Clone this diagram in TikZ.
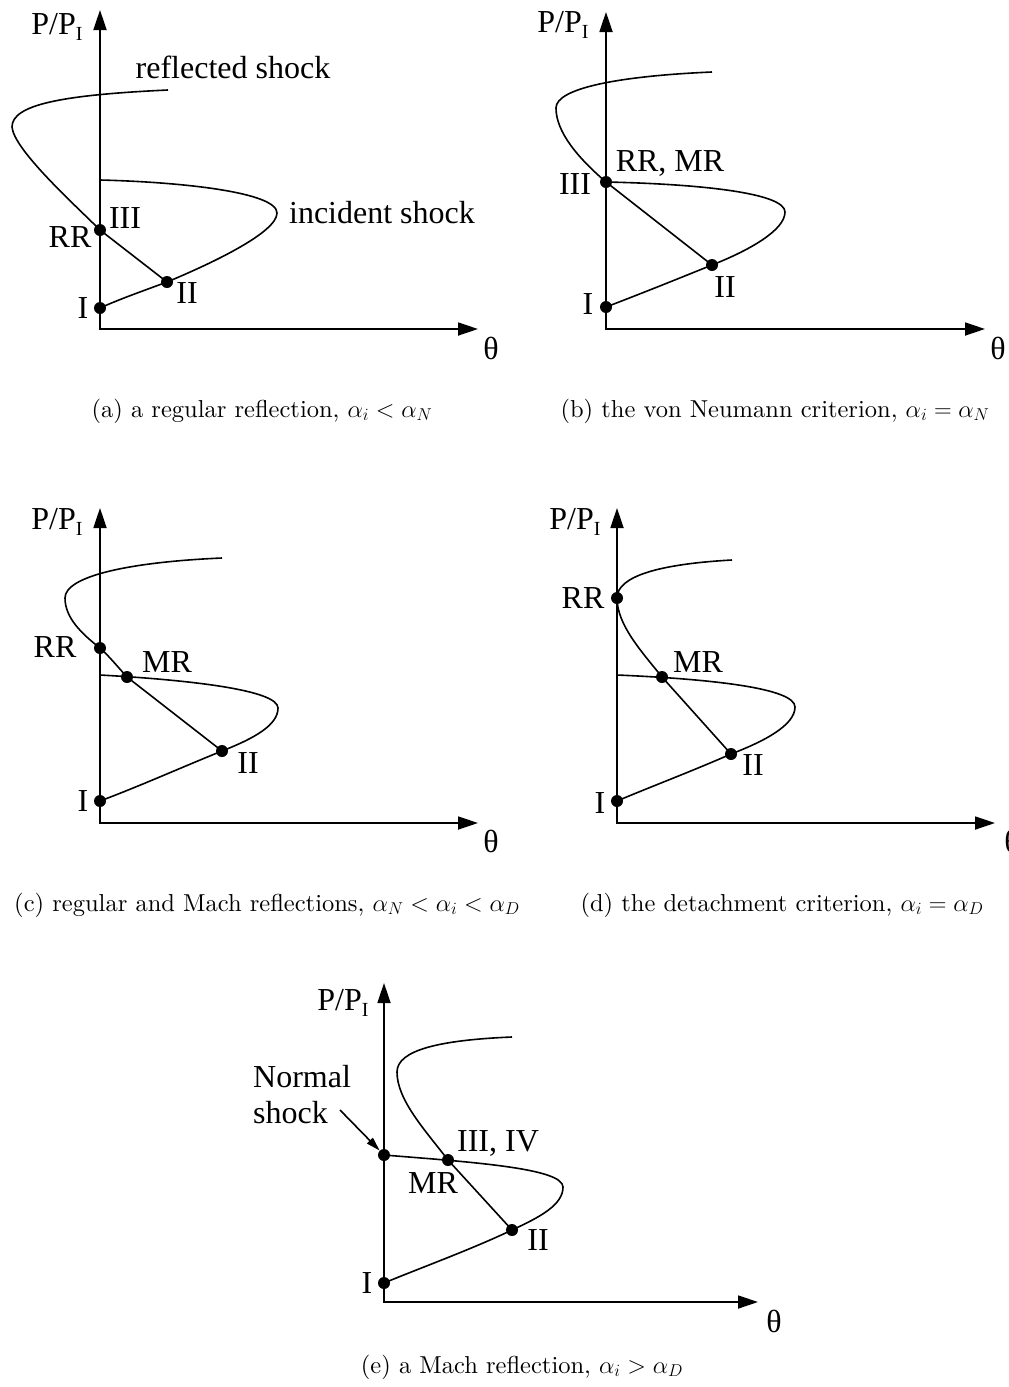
\RequirePackage{fix-cm}
\documentclass[tikz,border=0pt]{standalone}
\usepackage{fontspec}
\newfontfamily\tfont{Liberation Serif}
\newfontfamily\capfont{lmroman10-regular}[Extension=.otf]
\usetikzlibrary{arrows.meta}
\newcommand{\PPI}{P/P\raisebox{-6pt}{\fontsize{20}{20}\selectfont I}}
\begin{document}
\begin{tikzpicture}[x=1pt,y=-1pt,
  axis/.style={line width=1.8pt,{Triangle[length=20pt,width=13pt]}-{Triangle[length=20pt,width=13pt]}},
  polar/.style={line width=1.6pt},
  dot/.style={circle,fill=black,inner sep=0pt,minimum size=12pt},
  lab/.style={font=\tfont\fontsize{32}{36}\selectfont,inner sep=0pt},
  captext/.style={font=\capfont\fontsize{24.5}{29}\selectfont,inner sep=0pt},
  pointer/.style={line width=1.6pt,-{Triangle[length=14pt,width=8pt]}}]
\useasboundingbox (0,0) rectangle (1009,1387);

% ---------------- (a)
\coordinate (aO) at (100,329); \coordinate (aY) at (100,10); \coordinate (aX) at (478,329);
\draw[axis] (aY) -- (aO) -- (aX);
\node[dot] (aI) at (100,308) {};
\node[dot] (aII) at (167,282) {};
\node[dot] (aIII) at (100,230) {};
\coordinate (aRs) at (168,90); \coordinate (aIs) at (100,180);
\draw[polar] (aRs) .. controls (60,95) and (12,105) .. (12,127)
  .. controls (14,150) and (75,205) .. (aIII.center) -- (aII.center);
\draw[polar] (aIs) .. controls (180,182) and (277,192) .. (277,213)
  .. controls (277,232) and (215,262) .. (aII.center)
  .. controls (140,292) and (120,299) .. (aI.center);
\node[lab] (aP) at (57,27) {\PPI};
\node[lab] (aT) at (491,348) {θ};
\node[lab] (aref) at (233,67) {reflected shock};
\node[lab] (ainc) at (382,213) {incident shock};
\node[lab] (aRR) at (70,237) {RR};
\node[lab] (aL3) at (125,218) {III};
\node[lab] (aL2) at (187,293) {II};
\node[lab] (aL1) at (83,308) {I};
\node[captext] (acap) at (262,411) {(a) a regular reflection, $\alpha_i < \alpha_N$};

% ---------------- (b)
\coordinate (bO) at (606,329); \coordinate (bY) at (606,12); \coordinate (bX) at (985,329);
\draw[axis] (bY) -- (bO) -- (bX);
\node[dot] (bI) at (606,307) {};
\node[dot] (bII) at (712,265) {};
\node[dot] (bIII) at (606,182) {};
\coordinate (bRs) at (712,72);
\draw[polar] (bRs) .. controls (620,76) and (556,88) .. (556,108)
  .. controls (556,132) and (578,158) .. (bIII.center) -- (bII.center);
\draw[polar] (bIII.center) .. controls (700,184) and (785,193) .. (785,212)
  .. controls (785,230) and (750,250) .. (bII.center)
  .. controls (670,282) and (640,294) .. (bI.center);
\node[lab] (bP) at (563,25) {\PPI};
\node[lab] (bT) at (998,348) {θ};
\node[lab] (bRM) at (670,163) {RR, MR};
\node[lab] (bL3) at (575,184) {III};
\node[lab] (bL2) at (725,287) {II};
\node[lab] (bL1) at (588,304) {I};
\node[captext] (bcap) at (775,411) {(b) the von Neumann criterion, $\alpha_i = \alpha_N$};

% ---------------- (c)
\coordinate (cO) at (100,823); \coordinate (cY) at (100,508); \coordinate (cX) at (478,823);
\draw[axis] (cY) -- (cO) -- (cX);
\node[dot] (cI) at (100,801) {};
\node[dot] (cII) at (222,751) {};
\node[dot] (cRR) at (100,648) {};
\node[dot] (cMR) at (127,677) {};
\coordinate (cRs) at (222,558); \coordinate (cIs) at (100,675);
\draw[polar] (cRs) .. controls (130,562) and (65,576) .. (65,598)
  .. controls (65,618) and (82,634) .. (cRR.center)
  .. controls (109,656) and (117,666) .. (cMR.center) -- (cII.center);
\draw[polar] (cIs) .. controls (190,680) and (278,690) .. (278,708)
  .. controls (278,725) and (255,738) .. (cII.center)
  .. controls (180,768) and (140,786) .. (cI.center);
\node[lab] (cP) at (57,522) {\PPI};
\node[lab] (cT) at (491,841) {θ};
\node[lab] (cLRR) at (55,647) {RR};
\node[lab] (cLMR) at (167,662) {MR};
\node[lab] (cL2) at (248,763) {II};
\node[lab] (cL1) at (83,801) {I};
\node[captext] (ccap) at (267,905) {(c) regular and Mach reflections, $\alpha_N < \alpha_i < \alpha_D$};

% ---------------- (d)
\coordinate (dO) at (617,823); \coordinate (dY) at (617,508); \coordinate (dX) at (995,823);
\draw[axis] (dY) -- (dO) -- (dX);
\node[dot] (dI) at (617,801) {};
\node[dot] (dII) at (731,754) {};
\node[dot] (dRR) at (617,598) {};
\node[dot] (dMR) at (662,677) {};
\coordinate (dRs) at (732,560); \coordinate (dIs) at (617,675);
\draw[polar] (dRs) .. controls (660,564) and (617,576) .. (dRR.center)
  .. controls (617,625) and (642,652) .. (dMR.center) -- (dII.center);
\draw[polar] (dIs) .. controls (710,679) and (795,688) .. (795,707)
  .. controls (795,725) and (765,741) .. (dII.center)
  .. controls (690,772) and (650,787) .. (dI.center);
\node[lab] (dP) at (575,522) {\PPI};
\node[lab] (dT) at (1012,841) {θ};
\node[lab] (dLRR) at (583,598) {RR};
\node[lab] (dLMR) at (698,662) {MR};
\node[lab] (dL2) at (753,765) {II};
\node[lab] (dL1) at (600,803) {I};
\node[captext] (dcap) at (782,905) {(d) the detachment criterion, $\alpha_i = \alpha_D$};

% ---------------- (e)
\coordinate (eO) at (384,1302); \coordinate (eY) at (384,983); \coordinate (eX) at (758,1302);
\draw[axis] (eY) -- (eO) -- (eX);
\node[dot] (eI) at (384,1283) {};
\node[dot] (eII) at (512,1230) {};
\node[dot] (eN) at (384,1155) {};
\node[dot] (eC) at (448,1160) {};
\coordinate (eRs) at (512,1037);
\draw[polar] (eRs) .. controls (440,1040) and (397,1050) .. (397,1072)
  .. controls (397,1100) and (425,1130) .. (eC.center) -- (eII.center);
\draw[polar] (eN.center) .. controls (470,1162) and (563,1168) .. (563,1187)
  .. controls (563,1205) and (540,1217) .. (eII.center)
  .. controls (470,1250) and (420,1268) .. (eI.center);
\node[lab] (eP) at (343,1003) {\PPI};
\node[lab] (eT) at (774,1321) {θ};
\node[lab,align=left,anchor=west] (eNS) at (253,1095) {Normal\\shock};
\coordinate (eArr) at (340,1110);
\draw[pointer] (eArr) -- (eN);
\node[lab] (eL34) at (498,1143) {III, IV};
\node[lab] (eLMR) at (433,1183) {MR};
\node[lab] (eL2) at (538,1240) {II};
\node[lab] (eL1) at (367,1283) {I};
\node[captext] (ecap) at (522,1367) {(e) a Mach reflection, $\alpha_i > \alpha_D$};
\end{tikzpicture}
\end{document}
